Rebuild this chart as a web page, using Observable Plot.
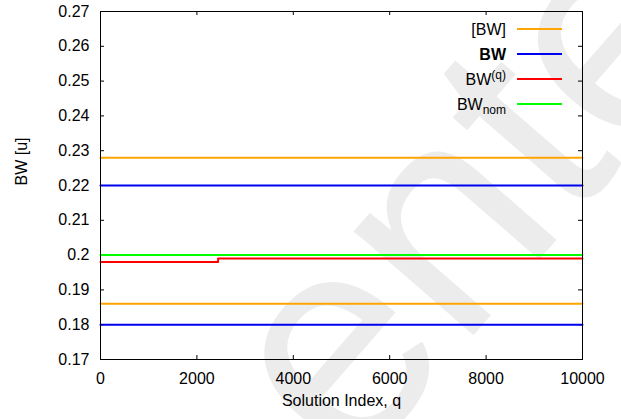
<!DOCTYPE html>
<html>
<head>
<meta charset="utf-8">
<script src="https://cdn.jsdelivr.net/npm/d3@7"></script>
<script src="https://cdn.jsdelivr.net/npm/@observablehq/plot@0.6"></script>
<style>
  body { margin: 0; background: #fff; }
  #chart { position: relative; width: 621px; height: 419px; font-family: "Liberation Sans", Arial, sans-serif; color: #000; }
  #chart svg { display: block; }
  .lg-text { position: absolute; right: 115px; height: 20px; line-height: 20px; font-size: 16px; white-space: nowrap; text-align: right; }
  .lg-text sup, .lg-text sub { font-size: 12px; line-height: 0; }
  .lg-swatch { position: absolute; left: 517px; width: 45px; height: 2px; }
</style>
</head>
<body>
<div id="chart"></div>
<script>
// Solution index range (x) and axis ticks
const qRange = [0, 10000];
const xTicks = [0, 2000, 4000, 6000, 8000, 10000];
const yTicks = [0.17, 0.18, 0.19, 0.2, 0.21, 0.22, 0.23, 0.24, 0.25, 0.26, 0.27];

// Interval bandwidth [BW]: lower and upper bound
const bwIntervalBounds = [0.186, 0.228];
// Bandwidth BW: lower and upper bound
const bwBounds = [0.18, 0.22];
// Per-solution bandwidth BW^(q): steps up at q = 2440
const bwqIndex = [0, 2440, 10000];
const bwqValue = [0.198, 0.199, 0.199];
// Nominal bandwidth
const bwNom = 0.2;

// Legend entries (HTML labels) and series colours
const seriesLabels = ["[BW]", "<b>BW</b>", "BW<sup>(q)</sup>", "BW<sub>nom</sub>"];
const seriesColors = ["#ffa500", "#0000f0", "#ff0000", "#00ff00"];

const flat = (v) => qRange.map(q => ({q, v}));

const W = 621, H = 419;
const M = {top: 11, right: 39, bottom: 60, left: 100};
const frameW = W - M.left - M.right;
const frameH = H - M.top - M.bottom;
const tickLen = 4;

const lineOpts = (color) => ({x: "q", y: "v", stroke: color, strokeWidth: 2});

const chart = Plot.plot({
  width: W,
  height: H,
  marginTop: M.top,
  marginRight: M.right,
  marginBottom: M.bottom,
  marginLeft: M.left,
  style: {fontFamily: "'Liberation Sans', Arial, sans-serif", fontSize: "16px", background: "#fff", color: "#000"},
  x: {domain: qRange},
  y: {domain: [0.17, 0.27]},
  marks: [
    // faint background lettering
    Plot.text(["ente"], {frameAnchor: "middle", dx: 128, dy: 8, rotate: -49, fontSize: 300, fill: "#ececec", fontFamily: "'Liberation Sans', Arial, sans-serif"}),

    // axes: labels outside, ticks drawn inward on all four sides
    Plot.axisX(xTicks, {tickSize: 0, tickPadding: 13, tickFormat: d => String(d), label: null}),
    Plot.axisY(yTicks, {tickSize: 0, tickPadding: 11, tickFormat: d => String(+d.toFixed(2)), label: null}),
    Plot.tickX(xTicks, {x: d => d, insetTop: frameH - tickLen, stroke: "#000"}),
    Plot.tickX(xTicks, {x: d => d, insetBottom: frameH - tickLen, stroke: "#000"}),
    Plot.tickY(yTicks, {y: d => d, insetRight: frameW - tickLen, stroke: "#000"}),
    Plot.tickY(yTicks, {y: d => d, insetLeft: frameW - tickLen, stroke: "#000"}),
    Plot.text(["Solution Index, q"], {frameAnchor: "bottom", dy: 41, lineAnchor: "middle", fontSize: 16}),
    Plot.text(["BW [u]"], {frameAnchor: "left", dx: -79, rotate: -90, fontSize: 16}),

    // series
    Plot.line(flat(bwIntervalBounds[1]), lineOpts(seriesColors[0])),
    Plot.line(flat(bwIntervalBounds[0]), lineOpts(seriesColors[0])),
    Plot.line(flat(bwBounds[1]), lineOpts(seriesColors[1])),
    Plot.line(flat(bwBounds[0]), lineOpts(seriesColors[1])),
    Plot.line(flat(bwNom), lineOpts(seriesColors[3])),
    Plot.line(bwqIndex.map((q, i) => ({q, v: bwqValue[i]})), {...lineOpts(seriesColors[2]), curve: "step-after"}),

    Plot.frame({stroke: "#000", strokeWidth: 1})
  ]
});

const root = document.getElementById("chart");
root.appendChild(chart);

// legend in the upper-right corner of the plot area
seriesLabels.forEach((label, i) => {
  const y = 29 + 25 * i;
  const t = document.createElement("div");
  t.className = "lg-text";
  t.style.top = (y - 9) + "px";
  t.innerHTML = label;
  root.appendChild(t);
  const s = document.createElement("div");
  s.className = "lg-swatch";
  s.style.top = (y - 1) + "px";
  s.style.background = seriesColors[i];
  root.appendChild(s);
});
</script>
</body>
</html>
